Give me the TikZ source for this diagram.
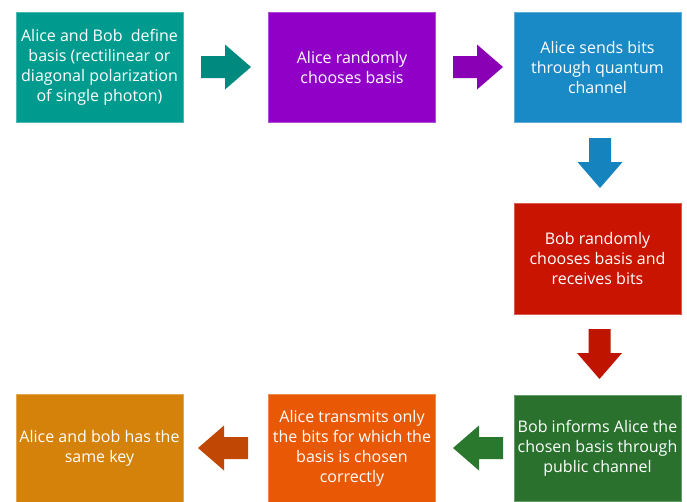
\documentclass[tikz,border=0pt]{standalone}
\usepackage{fontspec}
\setmainfont{Open Sans}
\definecolor{tealbox}{HTML}{009B8F}
\definecolor{tealarr}{HTML}{00897F}
\definecolor{purpbox}{HTML}{9000C6}
\definecolor{purparr}{HTML}{8A00B5}
\definecolor{bluebox}{HTML}{1A8AC6}
\definecolor{bluearr}{HTML}{1583BE}
\definecolor{redbox}{HTML}{C81400}
\definecolor{redarr}{HTML}{BF1500}
\definecolor{greenbox}{HTML}{29712D}
\definecolor{greenarr}{HTML}{2A782E}
\definecolor{orangebox}{HTML}{E85805}
\definecolor{orangearr}{HTML}{C04804}
\definecolor{goldbox}{HTML}{D4820A}
\tikzset{
  stepbox/.style={rectangle, minimum width=167pt, minimum height=110pt, inner sep=0pt,
    align=center, text=white, font=\fontsize{16}{20}\selectfont, line width=0.8pt},
  blockarrow/.pic={\fill (0,-11) -- (24,-11) -- (24,-22.5) -- (50,0) -- (24,22.5) -- (24,11) -- (0,11) -- cycle;}
}
\begin{document}
\begin{tikzpicture}[x=1pt,y=-1pt]
\useasboundingbox (0,0) rectangle (687,501);
\node[stepbox, fill=tealbox, draw=tealbox!70!white] (b1) at (99.5,67) {Alice and Bob\ \ define\\basis (rectilinear or\\diagonal polarization\\of single photon)};
\node[stepbox, fill=purpbox, draw=purpbox!70!white] (b2) at (352,67) {Alice randomly\\chooses basis};
\node[stepbox, fill=bluebox, draw=bluebox!70!white] (b3) at (597.5,67) {Alice sends bits\\through quantum\\channel};
\node[stepbox, fill=redbox, draw=redbox!70!white, minimum height=111pt] (b4) at (597.5,258.5) {Bob randomly\\chooses basis and\\receives bits};
\node[stepbox, fill=greenbox, draw=greenbox!70!white, minimum height=106pt] (b5) at (597.5,448) {Bob informs Alice the\\chosen basis through\\public channel};
\node[stepbox, fill=orangebox, draw=orangebox!70!white, minimum height=108pt] (b6) at (352,448) {Alice transmits only\\the bits for which the\\basis is chosen\\correctly};
\node[stepbox, fill=goldbox, draw=goldbox!70!white, minimum height=108pt] (b7) at (99.5,448) {Alice and bob has the\\same key};
\pic[fill=tealarr] at (201,67) {blockarrow};
\pic[fill=purparr] at (453,67) {blockarrow};
\pic[fill=bluearr, rotate=-90] at (600,138) {blockarrow};
\pic[fill=redarr, rotate=-90] at (599.5,329) {blockarrow};
\pic[fill=greenarr, rotate=180] at (503,448) {blockarrow};
\pic[fill=orangearr, rotate=180] at (248,448) {blockarrow};
\end{tikzpicture}
\end{document}
